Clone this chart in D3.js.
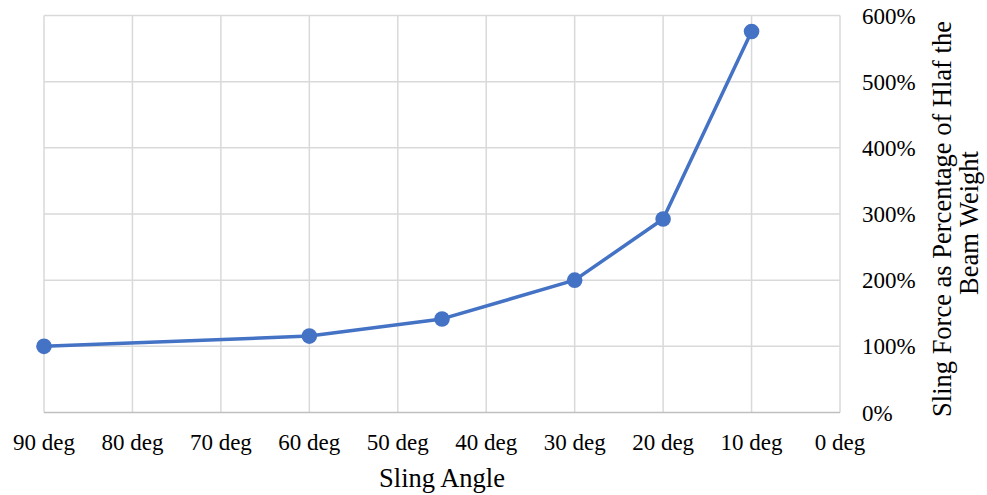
<!DOCTYPE html>
<html>
<head>
<meta charset="utf-8">
<script src="https://cdn.jsdelivr.net/npm/d3@7"></script>
<style>
  html, body { margin: 0; padding: 0; background: #fff; }
  svg text { font-family: "Liberation Serif", "Times New Roman", serif; fill: #000; }
</style>
</head>
<body>
<svg id="chart" width="987" height="495"></svg>
<script>
const angles = [90, 60, 45, 30, 20, 10];
const forcePct = [1.00, 1.155, 1.414, 2.00, 2.924, 5.759];
const xTicks = [90, 80, 70, 60, 50, 40, 30, 20, 10, 0];
const yTicks = [0, 1, 2, 3, 4, 5, 6];
const xTitle = "Sling Angle";
const yTitleLines = ["Sling Force as Percentage of Hlaf the", "Beam Weight"];

const svg = d3.select("#chart");
const x = d3.scaleLinear().domain([90, 0]).range([44, 840]);
const y = d3.scaleLinear().domain([0, 6]).range([412.5, 15.5]);

// gridlines
svg.append("g").selectAll("line.v").data(xTicks).join("line")
  .attr("x1", d => x(d)).attr("x2", d => x(d))
  .attr("y1", y(6)).attr("y2", y(0))
  .attr("stroke", "#d9d9d9").attr("stroke-width", 1.5);
svg.append("g").selectAll("line.h").data(yTicks.filter(d => d > 0)).join("line")
  .attr("x1", x(90)).attr("x2", x(0))
  .attr("y1", d => y(d)).attr("y2", d => y(d))
  .attr("stroke", "#d9d9d9").attr("stroke-width", 1.5);

// x axis line
svg.append("line")
  .attr("x1", x(90)).attr("x2", x(0)).attr("y1", y(0)).attr("y2", y(0))
  .attr("stroke", "#bfbfbf").attr("stroke-width", 1.5);

// x tick labels
svg.append("g").selectAll("text").data(xTicks).join("text")
  .attr("x", d => x(d)).attr("y", 450)
  .attr("text-anchor", "middle").attr("font-size", 23)
  .text(d => d + " deg");

// y tick labels (right)
svg.append("g").selectAll("text").data(yTicks).join("text")
  .attr("x", 862).attr("y", d => y(d) + 8)
  .attr("text-anchor", "start").attr("font-size", 23)
  .text(d => d3.format(".0%")(d));

// titles
svg.append("text").attr("x", 442).attr("y", 487)
  .attr("text-anchor", "middle").attr("font-size", 26.5).text(xTitle);

const yt = svg.append("text").attr("transform", "translate(951,219) rotate(-90)")
  .attr("text-anchor", "middle").attr("font-size", 26.5);
yt.selectAll("tspan").data(yTitleLines).join("tspan")
  .attr("x", (d, i) => i === 0 ? 0 : -4).attr("dy", (d, i) => i === 0 ? 0 : 27).text(d => d);

// line
const pts = angles.map((a, i) => [a, forcePct[i]]);
svg.append("path").datum(pts)
  .attr("fill", "none").attr("stroke", "#4472C4").attr("stroke-width", 3.5)
  .attr("stroke-linejoin", "round")
  .attr("d", d3.line().x(d => x(d[0])).y(d => y(d[1])));
svg.append("g").selectAll("circle").data(pts).join("circle")
  .attr("cx", d => x(d[0])).attr("cy", d => y(d[1])).attr("r", 7.8)
  .attr("fill", "#4472C4");
</script>
</body>
</html>
